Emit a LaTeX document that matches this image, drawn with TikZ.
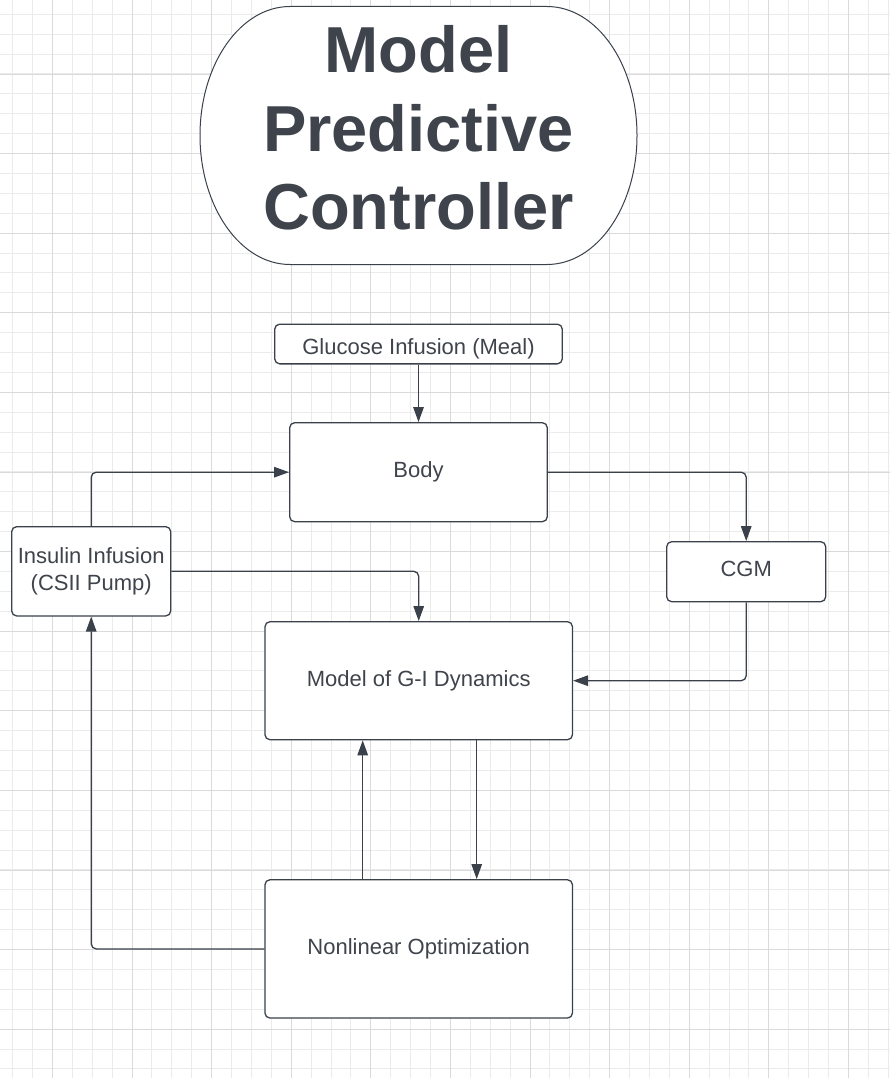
\documentclass[tikz,border=0pt]{standalone}
\usepackage{fontspec}
\setmainfont{Liberation Sans}
\usetikzlibrary{arrows.meta}
\definecolor{mauduong}{HTML}{3A414A}
\definecolor{mauchu}{HTML}{3F444C}
\definecolor{luoinho}{HTML}{EBEBEB}
\definecolor{luoilon}{HTML}{DADADA}

\begin{document}
\begin{tikzpicture}[x=1pt,y=-1pt, node font=\fontsize{22}{27.6}\selectfont,
	kotak/.style={draw=mauduong, fill=white, text=mauchu, line width=1.3pt, rounded corners=5pt, inner sep=0pt, align=center},
	panah/.style={draw=mauduong, line width=1.3pt, rounded corners=5pt, -{Triangle[length=15pt,width=10.5pt]}}]
			\useasboundingbox (0,0) rectangle (890,1078);
			\fill[white] (0,0) rectangle (890,1078);
			% luoi nen
			\foreach \k in {0,...,44} {\pgfmathsetmacro\p{round(12.2+19.9*\k)+0.5}
				\draw[luoinho, line width=1pt] (\p,0) -- (\p,1078);}
			\foreach \k in {0,...,53} {\pgfmathsetmacro\p{round(13.8+19.9*\k)+0.5}
				\draw[luoinho, line width=1pt] (0,\p) -- (890,\p);}
			\foreach \k in {0,...,10} {\pgfmathsetmacro\p{round(52+79.6*\k)+0.5}
				\draw[luoilon, line width=1pt] (\p,0) -- (\p,1078);}
			\foreach \k in {0,...,12} {\pgfmathsetmacro\p{round(73.5+79.6*\k)+0.5}
				\draw[luoilon, line width=1pt] (0,\p) -- (890,\p);}
			% tieu de
			\filldraw[fill=white, draw=mauduong, line width=1pt] (290,6.5) -- (547,6.5) arc[start angle=-90, end angle=90, x radius=90, y radius=129] -- (290,264.5) arc[start angle=90, end angle=270, x radius=90, y radius=129] -- cycle;
			\node[text=mauchu, font=\fontsize{65}{78.7}\selectfont\bfseries, align=center] (mpc) at (418.5,128) {Model\\Predictive\\Controller};
			% cac khoi
			\node[kotak, minimum width=287.6pt, minimum height=39.7pt, text height=25pt] (glukosa) at (418.5,344) {Glucose Infusion (Meal)};
			\node[kotak, minimum width=257.6pt, minimum height=99pt] (body) at (418.5,472.2) {Body};
			\node[kotak, minimum width=159pt, minimum height=89.3pt] (insulin) at (91.2,571.3) {Insulin Infusion\\(CSII Pump)};
			\node[kotak, minimum width=159pt, minimum height=60pt, text depth=5pt] (cgm) at (746.2,571.7) {CGM};
			\node[kotak, minimum width=307.5pt, minimum height=118pt] (model) at (418.7,680.7) {Model of G-I Dynamics};
			\node[kotak, minimum width=307.5pt, minimum height=138.3pt] (toiuu) at (418.7,948.9) {Nonlinear Optimization};
			% mui ten
			\draw[panah] (glukosa) -- (body);
			\draw[panah] (insulin.north) |- (body.west);
			\draw[panah] (body.east) -| (cgm.north);
			\draw[panah] (cgm.south) |- (model.east);
			\draw[panah] (insulin.east) -| (model.north);
			\draw[panah] ([xshift=58pt]model.south) -- ([xshift=58pt]toiuu.north);
			\draw[panah] ([xshift=-56pt]toiuu.north) -- ([xshift=-56pt]model.south);
			\draw[panah] (toiuu.west) -| (insulin.south);
		\end{tikzpicture}
\end{document}
